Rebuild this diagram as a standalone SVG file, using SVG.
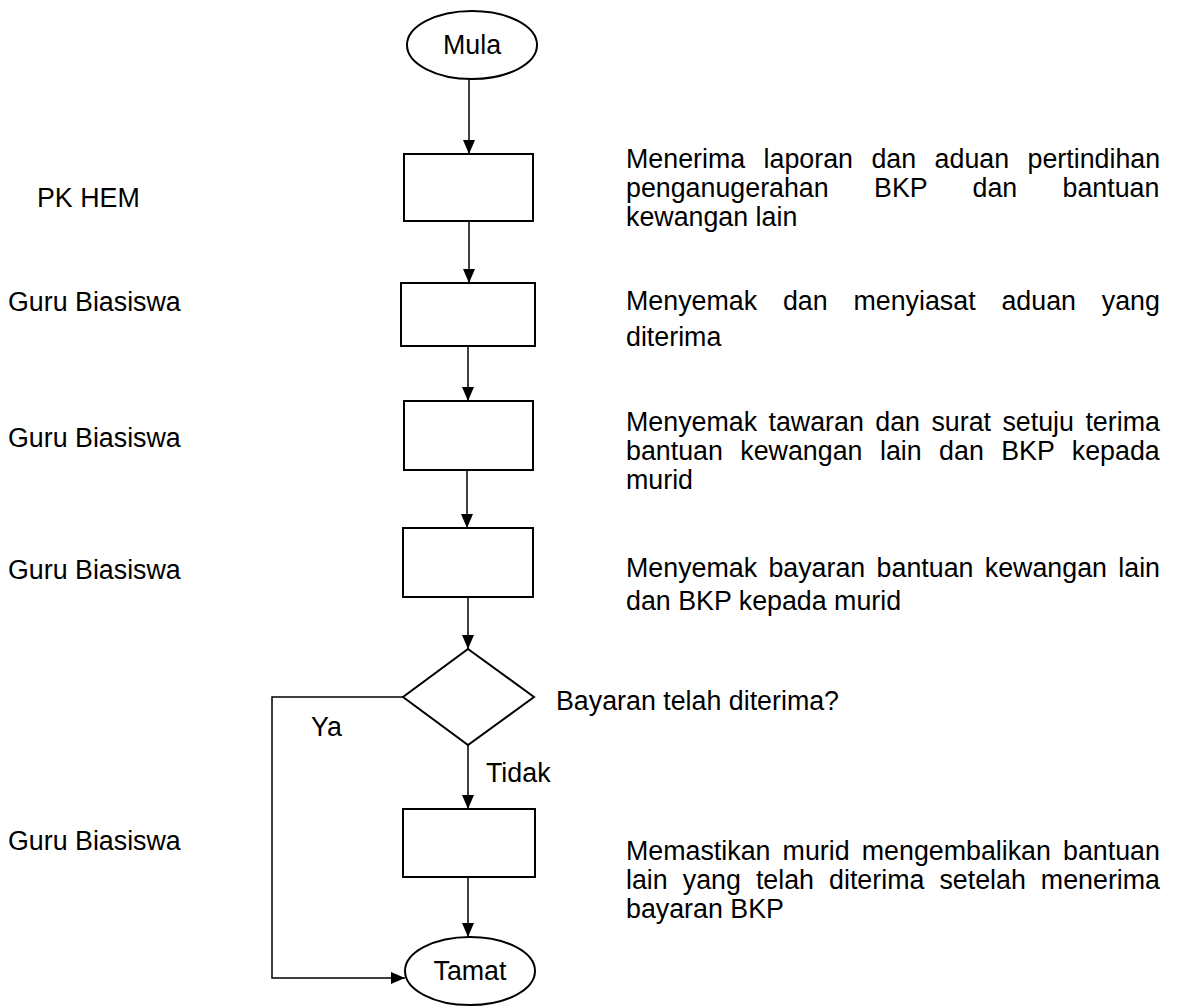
<svg xmlns="http://www.w3.org/2000/svg" width="1177" height="1008" viewBox="0 0 1177 1008">
  <style>
    .shape { fill: #ffffff; stroke: #000000; stroke-width: 2; }
    .conn { fill: none; stroke: #000000; stroke-width: 1.5; }
    text { font-family: "Liberation Sans", Arial, sans-serif; font-size: 26.8px; fill: #000000; }
    .mid { text-anchor: middle; }
  </style>
  <defs>
    <marker id="arrow" viewBox="0 0 14 12" refX="14" refY="6" markerWidth="14" markerHeight="12" markerUnits="userSpaceOnUse" orient="auto">
      <path d="M0,0 L14,6 L0,12 Z" fill="#000000"/>
    </marker>
  </defs>
  <rect width="1177" height="1008" fill="#ffffff"/>

  <!-- connectors -->
  <g id="connectors">
    <line class="conn" x1="469" y1="79" x2="469" y2="154" marker-end="url(#arrow)"/>
    <line class="conn" x1="469" y1="221" x2="469" y2="283" marker-end="url(#arrow)"/>
    <line class="conn" x1="468" y1="346" x2="468" y2="401" marker-end="url(#arrow)"/>
    <line class="conn" x1="467" y1="470" x2="467" y2="528" marker-end="url(#arrow)"/>
    <line class="conn" x1="468" y1="597" x2="468" y2="649" marker-end="url(#arrow)"/>
    <line class="conn" x1="468" y1="745" x2="468" y2="809" marker-end="url(#arrow)"/>
    <line class="conn" x1="468" y1="877" x2="468" y2="937" marker-end="url(#arrow)"/>
    <polyline class="conn" points="403,697 272,697 272,978 405,978" stroke-width="2" marker-end="url(#arrow)"/>
    <text x="311" y="736">Ya</text>
    <text x="486" y="782">Tidak</text>
  </g>

  <!-- start -->
  <g id="start">
    <ellipse class="shape" cx="472" cy="45" rx="65" ry="34"/>
    <text class="mid" x="472" y="54">Mula</text>
  </g>

  <!-- step 1 -->
  <g id="step1">
    <rect class="shape" x="404" y="154" width="129" height="67"/>
    <text x="37" y="207">PK HEM</text>
    <text x="626" y="168" word-spacing="11">Menerima laporan dan aduan pertindihan</text>
    <text x="626" y="197" word-spacing="37.9">penganugerahan BKP dan bantuan</text>
    <text x="626" y="226">kewangan lain</text>
  </g>

  <!-- step 2 -->
  <g id="step2">
    <rect class="shape" x="401" y="283" width="134" height="63"/>
    <text x="8" y="311">Guru Biasiswa</text>
    <text x="626" y="310" word-spacing="18.4">Menyemak dan menyiasat aduan yang</text>
    <text x="626" y="346">diterima</text>
  </g>

  <!-- step 3 -->
  <g id="step3">
    <rect class="shape" x="404" y="401" width="129" height="69"/>
    <text x="8" y="447">Guru Biasiswa</text>
    <text x="626" y="431" word-spacing="4">Menyemak tawaran dan surat setuju terima</text>
    <text x="626" y="460" word-spacing="10">bantuan kewangan lain dan BKP kepada</text>
    <text x="626" y="489">murid</text>
  </g>

  <!-- step 4 -->
  <g id="step4">
    <rect class="shape" x="403" y="528" width="130" height="69"/>
    <text x="8" y="579">Guru Biasiswa</text>
    <text x="626" y="577" word-spacing="3.9">Menyemak bayaran bantuan kewangan lain</text>
    <text x="626" y="610">dan BKP kepada murid</text>
  </g>

  <!-- decision -->
  <g id="decision">
    <polygon class="shape" points="468,649 534,697 468,745 403,697"/>
    <text x="556" y="710">Bayaran telah diterima?</text>
  </g>

  <!-- step 5 -->
  <g id="step5">
    <rect class="shape" x="403" y="809" width="132" height="68"/>
    <text x="8" y="850">Guru Biasiswa</text>
    <text x="626" y="860" word-spacing="4.7">Memastikan murid mengembalikan bantuan</text>
    <text x="626" y="889" word-spacing="7.6">lain yang telah diterima setelah menerima</text>
    <text x="626" y="918">bayaran BKP</text>
  </g>

  <!-- end -->
  <g id="end">
    <ellipse class="shape" cx="470" cy="971" rx="65" ry="34"/>
    <text class="mid" x="470" y="980">Tamat</text>
  </g>
</svg>
